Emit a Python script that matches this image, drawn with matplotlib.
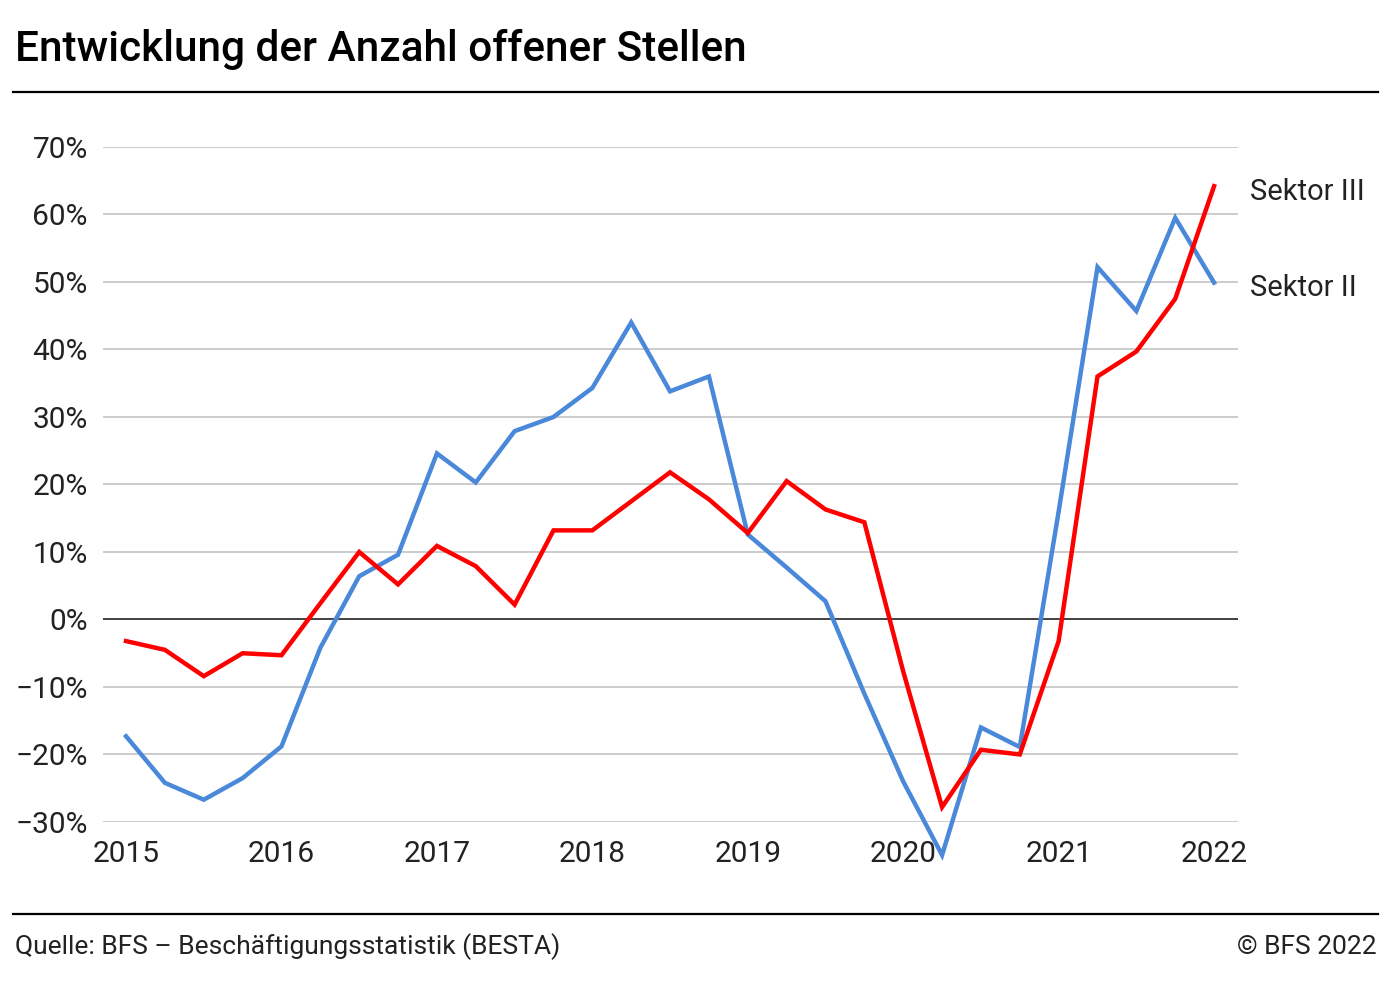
import matplotlib.pyplot as plt
import numpy as np

plt.rcParams['font.family'] = ['Roboto', 'DejaVu Sans']

# quarterly values, 2015 Q1 .. 2022 Q1
years = [2015, 2016, 2017, 2018, 2019, 2020, 2021, 2022]
sektor_ii = [-17.3, -24.2, -26.7, -23.5, -18.8, -4.2, 6.4, 9.6,
             24.6, 20.3, 27.9, 30.0, 34.3, 44.0, 33.8, 36.0,
             12.6, 7.7, 2.7, -11.0, -24.0, -34.9, -16.0, -18.9,
             16.0, 52.2, 45.7, 59.5, 49.9]
sektor_iii = [-3.2, -4.5, -8.4, -5.0, -5.3, 2.4, 10.0, 5.2,
              10.9, 7.9, 2.2, 13.2, 13.2, 17.5, 21.8, 17.8,
              12.8, 20.5, 16.3, 14.4, -7.7, -27.8, -19.3, -20.0,
              -3.2, 36.0, 39.7, 47.5, 64.2]
yticks = [-30, -20, -10, 0, 10, 20, 30, 40, 50, 60, 70]

x = years[0] + np.arange(len(sektor_ii)) / 4

fig = plt.figure(figsize=(14, 9.85), dpi=100)
ax = fig.add_axes([0.0736, 0.1655, 0.8107, 0.6853])

# grid
for v in yticks:
    if v == 0:
        ax.axhline(v, color='#333333', lw=1.3, zorder=2)
    else:
        ax.axhline(v, color='#cccccc', lw=1.4, zorder=1)

ax.plot(x, sektor_ii, color='#4a88d9', lw=3.2, clip_on=False, zorder=3,
        solid_joinstyle='miter')
ax.plot(x, sektor_iii, color='#ff0000', lw=3.2, clip_on=False, zorder=4,
        solid_joinstyle='miter')

ax.annotate('Sektor III', xy=(x[-1], sektor_iii[-1]), xytext=(26, -4),
            textcoords='offset points', va='center', ha='left',
            fontsize=21, color='#222222', annotation_clip=False)
ax.annotate('Sektor II', xy=(x[-1], sektor_ii[-1]), xytext=(26, -4),
            textcoords='offset points', va='center', ha='left',
            fontsize=21, color='#222222', annotation_clip=False)

ax.set_xlim(2014.852, 2022.154)
ax.set_ylim(-30, 70)
ax.set_xticks(years)
ax.set_xticklabels([str(y) for y in years])
ax.set_yticks(yticks)
ax.set_yticklabels([f'{v}%'.replace('-', '\u2212') for v in yticks])
ax.tick_params(length=0, labelsize=21.5, colors='#222222')
ax.tick_params(axis='y', pad=11)
ax.tick_params(axis='x', pad=13)
for s in ax.spines.values():
    s.set_visible(False)

# title, rules and footer
fig.text(0.011, 1 - 49/985, 'Entwicklung der Anzahl offener Stellen',
         fontsize=30.5, fontweight='medium', ha='left', va='center')
fig.add_artist(plt.Line2D([0.0093, 0.984], [1 - 92/985] * 2,
                          color='black', lw=1.6))
fig.add_artist(plt.Line2D([0.0093, 0.984], [1 - 914/985] * 2,
                          color='black', lw=1.6))
fig.text(0.011, 1 - 947/985, 'Quelle: BFS \u2013 Besch\u00e4ftigungsstatistik (BESTA)',
         fontsize=19, ha='left', va='center', color='#222222')
fig.text(0.983, 1 - 947/985, '\u00a9 BFS 2022',
         fontsize=19, ha='right', va='center', color='#222222')

fig.savefig('out.png', dpi=100)
